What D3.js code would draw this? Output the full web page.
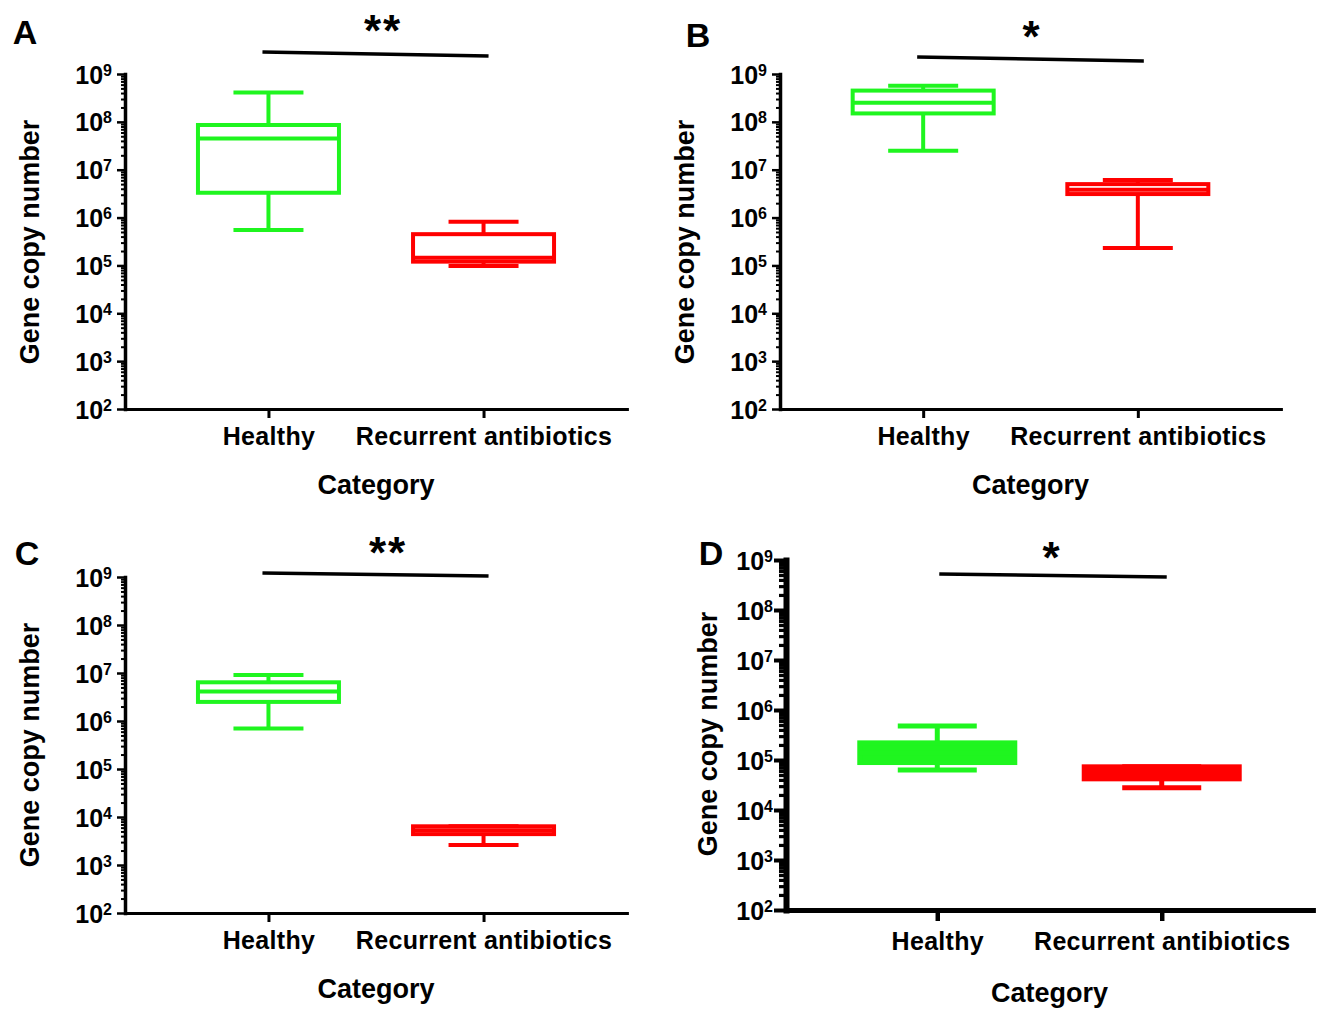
<!DOCTYPE html>
<html>
<head>
<meta charset="utf-8">
<script src="https://cdn.jsdelivr.net/npm/d3@7"></script>
<style>
  body { margin: 0; background: #fff; }
  text { font-family: "Liberation Sans", Arial, sans-serif; font-weight: bold; fill: #000; }
</style>
</head>
<body>
<svg id="fig" width="1323" height="1009"></svg>
<script>
const categories = ["Healthy", "Recurrent antibiotics"];
const panelLetters = ["A", "B", "C", "D"];
const sigMarks = ["**", "*", "**", "*"];
const yTickValues = [1e2, 1e3, 1e4, 1e5, 1e6, 1e7, 1e8, 1e9];
const yLabel = "Gene copy number";
const xLabel = "Category";

// five number summaries: [min, Q1, median, Q3, max]
const healthyA = [5.5e5, 3.3e6, 4.5e7, 8.6e7, 4.1e8];
const recurrentA = [9.7e4, 1.2e5, 1.45e5, 4.5e5, 8.2e5];
const healthyB = [2.5e7, 1.5e8, 2.5e8, 4.5e8, 5.7e8];
const recurrentB = [2.3e5, 3.1e6, 3.8e6, 5.0e6, 6.1e6];
const healthyC = [7.0e5, 2.5e6, 4.1e6, 6.4e6, 9.1e6];
const recurrentC = [2.6e3, 4.4e3, 5.3e3, 6.4e3, 6.4e3];
const healthyD = [6.3e4, 8.9e4, 1.4e5, 2.2e5, 4.8e5];
const recurrentD = [2.8e4, 4.2e4, 5.2e4, 7.3e4, 7.3e4];

const green = "#1ff51f";
const red = "#ff0000";

var svg = d3.select("#fig");

// panel layout (pixels)
var layouts = [
    {left: 125, right: 627, top: 74, bottom: 409, pad: 0.667, letter: [25, 32], ylab: [30, 242], star: [383, 21],
     sig: [-22, -18], sigX: [-6, 5], axisW: 3.5, tickW: 2.5, major: 8, minor: 4, lblPad: 5, xTick: 9, xPad: 9,
     catDy: 85, box: 4, boxW: 141, capW: 70, fill: false},
    {left: 780, right: 1281, top: 74, bottom: 409, pad: 0.667, letter: [698, 35], ylab: [685, 242], star: [1032, 27],
     sig: [-17, -13], sigX: [-6, 6], axisW: 3.5, tickW: 2.5, major: 8, minor: 4, lblPad: 5, xTick: 9, xPad: 9,
     catDy: 85, box: 4, boxW: 141, capW: 70, fill: false},
    {left: 125, right: 627, top: 577, bottom: 913, pad: 0.667, letter: [27, 553], ylab: [30, 745], star: [388, 543],
     sig: [-4, -1], sigX: [-6, 5], axisW: 3.5, tickW: 2.5, major: 8, minor: 4, lblPad: 5, xTick: 9, xPad: 9,
     catDy: 85, box: 4, boxW: 141, capW: 70, fill: false},
    {left: 786, right: 1313, top: 560, bottom: 910, pad: 0.674, letter: [711, 553], ylab: [708, 734], star: [1052, 548],
     sig: [14, 17], sigX: [2, 5], axisW: 6, tickW: 4, major: 12, minor: 7, lblPad: 1, xTick: 11, xPad: 11,
     catDy: 92, box: 5, boxW: 155, capW: 79, fill: true}
];

var datasets = [[healthyA, recurrentA], [healthyB, recurrentB], [healthyC, recurrentC], [healthyD, recurrentD]];

var minorValues = [];
for (var e = 2; e < 9; e++) {
    for (var m = 2; m <= 9; m++) minorValues.push(m * Math.pow(10, e));
}

function drawPanel(p, data, letter, sig) {
    var g = svg.append("g");
    var y = d3.scaleLog().domain([1e2, 1e9]).range([p.bottom, p.top]);
    var x = d3.scalePoint().domain(categories).range([p.left, p.right]).padding(p.pad);

    // minor ticks
    var minorAxis = g.append("g")
        .attr("transform", "translate(" + p.left + ",0)")
        .call(d3.axisLeft(y).tickValues(minorValues).tickSize(p.minor).tickSizeOuter(0).tickFormat(""));
    minorAxis.select(".domain").remove();
    minorAxis.selectAll(".tick line").attr("stroke-width", p.tickW * 0.8);

    // major y axis
    var yAxis = g.append("g")
        .attr("transform", "translate(" + p.left + ",0)")
        .call(d3.axisLeft(y).tickValues(yTickValues).tickSize(p.major).tickSizeOuter(0)
            .tickPadding(p.lblPad).tickFormat(function() { return "10"; }));
    yAxis.select(".domain").attr("stroke-width", p.axisW).attr("stroke-linecap", "square");
    yAxis.selectAll(".tick line").attr("stroke-width", p.tickW);
    yAxis.selectAll(".tick text")
        .style("font-size", "25px")
        .attr("dy", "0.36em")
        .append("tspan")
        .attr("dy", "-0.5em")
        .style("font-size", "16px")
        .text(function(d) { return Math.round(Math.log10(d)); });

    // x axis
    var xAxis = g.append("g")
        .attr("transform", "translate(0," + p.bottom + ")")
        .call(d3.axisBottom(x).tickSize(p.xTick).tickSizeOuter(0).tickPadding(p.xPad));
    xAxis.select(".domain").attr("stroke-width", p.axisW * 0.8).attr("stroke-linecap", "square");
    xAxis.selectAll(".tick line").attr("stroke-width", p.tickW + 0.5);
    xAxis.selectAll(".tick text").style("font-size", "25px").attr("letter-spacing", "0.3px");

    // boxes
    var colors = [green, red];
    categories.forEach(function(c, i) {
        var s = data[i];
        var cx = x(c);
        var col = colors[i];
        var bg = g.append("g").attr("stroke", col).attr("stroke-width", p.box);
        // whiskers
        bg.append("line").attr("x1", cx).attr("x2", cx).attr("y1", y(s[3])).attr("y2", y(s[4]));
        bg.append("line").attr("x1", cx).attr("x2", cx).attr("y1", y(s[1])).attr("y2", y(s[0]));
        bg.append("line").attr("x1", cx - p.capW / 2).attr("x2", cx + p.capW / 2)
            .attr("y1", y(s[4])).attr("y2", y(s[4]));
        bg.append("line").attr("x1", cx - p.capW / 2).attr("x2", cx + p.capW / 2)
            .attr("y1", y(s[0])).attr("y2", y(s[0]));
        bg.append("rect")
            .attr("x", cx - p.boxW / 2)
            .attr("width", p.boxW)
            .attr("y", y(s[3]))
            .attr("height", y(s[1]) - y(s[3]))
            .attr("fill", p.fill ? col : "#fff");
        bg.append("line").attr("x1", cx - p.boxW / 2).attr("x2", cx + p.boxW / 2)
            .attr("y1", y(s[2])).attr("y2", y(s[2]));
    });

    // significance bar
    g.append("line")
        .attr("x1", x(categories[0]) + p.sigX[0])
        .attr("x2", x(categories[1]) + p.sigX[1])
        .attr("y1", p.top + p.sig[0])
        .attr("y2", p.top + p.sig[1])
        .attr("stroke", "#000")
        .attr("stroke-width", 3.5);
    g.append("text")
        .attr("x", p.star[0])
        .attr("y", p.star[1] + 25)
        .attr("text-anchor", "middle")
        .attr("letter-spacing", "2px")
        .style("font-size", "44px")
        .text(sig);

    // panel letter
    g.append("text")
        .attr("x", p.letter[0])
        .attr("y", p.letter[1] + 12)
        .attr("text-anchor", "middle")
        .style("font-size", "34px")
        .text(letter);

    // axis titles
    g.append("text")
        .attr("transform", "translate(" + (p.ylab[0] + 9) + "," + p.ylab[1] + ") rotate(-90)")
        .attr("text-anchor", "middle")
        .style("font-size", "27px")
        .text(yLabel);
    g.append("text")
        .attr("x", (p.left + p.right) / 2)
        .attr("y", p.bottom + p.catDy)
        .attr("text-anchor", "middle")
        .style("font-size", "27px")
        .text(xLabel);
}

layouts.forEach(function(p, i) {
    drawPanel(p, datasets[i], panelLetters[i], sigMarks[i]);
});
</script>
</body>
</html>
